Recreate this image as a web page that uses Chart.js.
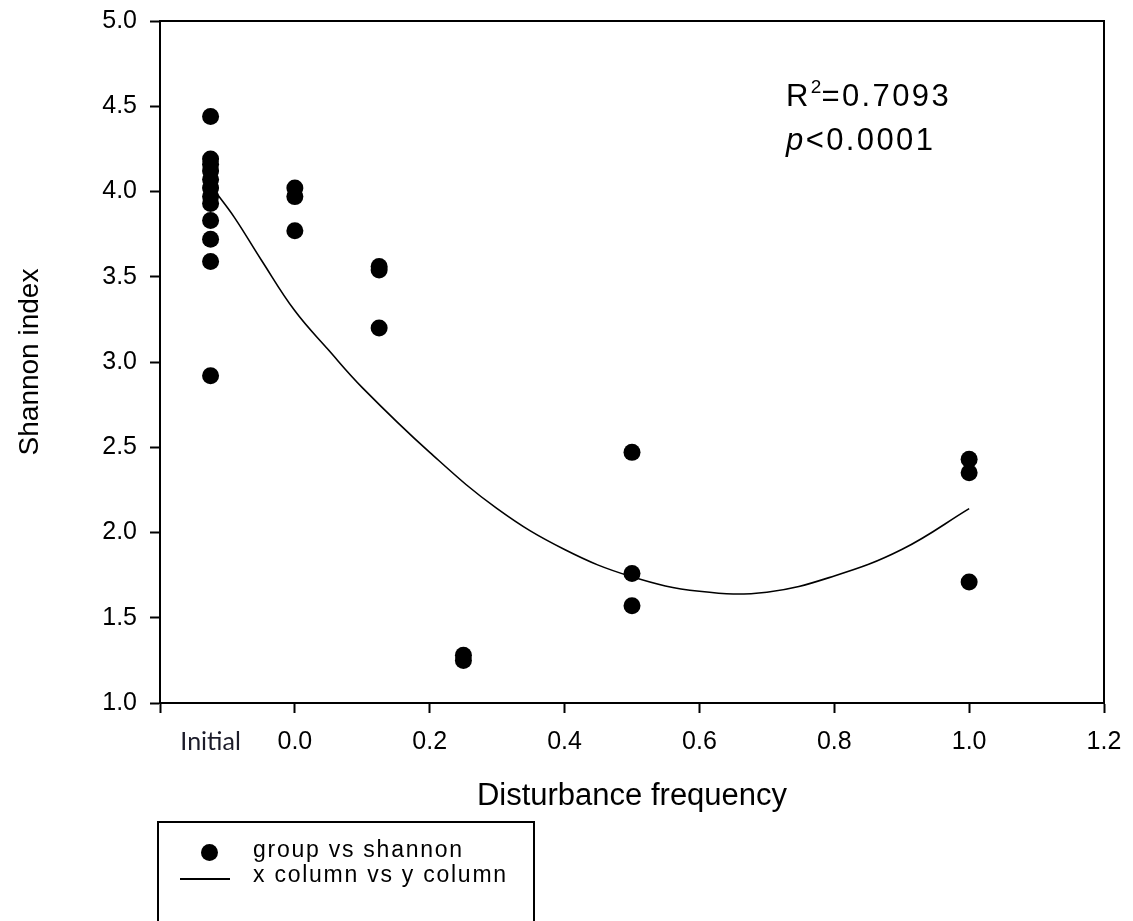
<!DOCTYPE html>
<html>
<head>
<meta charset="utf-8">
<title>Shannon index vs disturbance frequency</title>
<script src="https://cdn.jsdelivr.net/npm/chart.js@4.4.1/dist/chart.umd.min.js"></script>
<style>
  html, body { margin: 0; padding: 0; background: #fff; }
  #wrap { position: relative; width: 1133px; height: 921px; overflow: hidden; background: #fff; }
  #shannonChart { position: absolute; left: 0; top: 0; }
  .txt {
    position: absolute;
    font-family: "Liberation Sans", Arial, sans-serif;
    color: #000;
    line-height: 1;
    white-space: nowrap;
  }
  .stat { font-size: 31px; left: 786px; letter-spacing: 2.4px; }
  .stat sup { font-size: 19px; position: relative; top: -3px; vertical-align: top; letter-spacing: 0; }
  #legendBox {
    position: absolute;
    left: 157px;
    top: 821px;
    width: 378px;
    height: 120px;
    border: 2px solid #000;
    box-sizing: border-box;
  }
  .legend-dot {
    position: absolute;
    left: 201px;
    top: 844px;
    width: 17px;
    height: 17px;
    border-radius: 50%;
    background: #000;
  }
  .legend-line {
    position: absolute;
    left: 180px;
    top: 878px;
    width: 50px;
    height: 2px;
    background: #000;
  }
  .legend-txt { font-size: 23px; left: 253px; letter-spacing: 1.75px; }
</style>
</head>
<body>
<div id="wrap">
  <canvas id="shannonChart" width="1133" height="921"></canvas>

  <div class="txt stat" style="top: 80px;">R<sup>2</sup>=0.7093</div>
  <div class="txt stat" style="top: 124px;"><i>p</i>&lt;0.0001</div>

  <div id="legendBox"></div>
  <span class="legend-dot"></span>
  <span class="legend-line"></span>
  <span class="txt legend-txt" style="top: 838px;">group vs shannon</span>
  <span class="txt legend-txt" style="top: 863px;">x column vs y column</span>
</div>

<script>
// x axis ticks ("Initial" sits between -0.2 and 0.0 and has no tick mark)
const xTicks = [-0.2, -0.125, 0, 0.2, 0.4, 0.6, 0.8, 1.0, 1.2];
const xTickLabels = ["", "Initial", "0.0", "0.2", "0.4", "0.6", "0.8", "1.0", "1.2"];
const yTicks = [1.0, 1.5, 2.0, 2.5, 3.0, 3.5, 4.0, 4.5, 5.0];

// disturbance frequency of each group (Initial plotted at -0.125)
const groupX = [-0.125, 0, 0.125, 0.25, 0.5, 1.0];

// Shannon index values, one array per group
const initialY = [4.44, 4.19, 4.16, 4.12, 4.07, 4.02, 3.97, 3.93, 3.83, 3.72, 3.59, 2.92];
const freq0Y = [4.02, 3.97, 3.77];
const freq0125Y = [3.56, 3.54, 3.20];
const freq025Y = [1.28, 1.25];
const freq05Y = [2.47, 1.76, 1.57];
const freq1Y = [2.43, 2.35, 1.71];

// fitted curve, read at several points along the line
const curveX = [-0.12, -0.09, -0.05, 0, 0.05, 0.1, 0.2, 0.3, 0.4, 0.5, 0.6, 0.7, 0.8, 0.9, 1.0];
const curveY = [4.01, 3.85, 3.60, 3.30, 3.07, 2.85, 2.47, 2.14, 1.90, 1.74, 1.655, 1.65, 1.745, 1.90, 2.14];

const groupValues = [initialY, freq0Y, freq0125Y, freq025Y, freq05Y, freq1Y];

const scatterPoints = [];
groupValues.forEach((values, i) => {
  values.forEach((v) => {
    scatterPoints.push({ x: groupX[i], y: v });
  });
});

const curvePoints = curveX.map((x, i) => ({ x: x, y: curveY[i] }));

const fontFamily = '"Liberation Sans", Arial, sans-serif';

// draw the top and right edges of the plot frame
const frameBox = {
  id: "frameBox",
  afterDraw(chart) {
    const { ctx, chartArea } = chart;
    ctx.save();
    ctx.strokeStyle = "#000";
    ctx.lineWidth = 2;
    ctx.beginPath();
    ctx.moveTo(chartArea.left, chartArea.top);
    ctx.lineTo(chartArea.right, chartArea.top);
    ctx.lineTo(chartArea.right, chartArea.bottom);
    ctx.stroke();
    ctx.restore();
  },
};

const shannonCtx = document.getElementById("shannonChart");

new Chart(shannonCtx, {
  type: "scatter",
  data: {
    datasets: [
      {
        label: "x column vs y column",
        data: curvePoints,
        showLine: true,
        borderColor: "#000",
        borderWidth: 1.6,
        pointRadius: 0,
        tension: 0.4,
        fill: false,
        order: 2,
      },
      {
        label: "group vs shannon",
        data: scatterPoints,
        backgroundColor: "#000",
        borderColor: "#000",
        pointRadius: 8.5,
        pointBorderWidth: 0,
        order: 1,
      },
    ],
  },
  options: {
    responsive: false,
    animation: false,
    layout: {
      padding: { left: 0, top: 21, right: 29, bottom: 106 },
    },
    scales: {
      x: {
        type: "linear",
        min: -0.2,
        max: 1.2,
        afterBuildTicks: (scale) => {
          scale.ticks = xTicks.map((v) => ({ value: v }));
        },
        afterFit: (scale) => {
          // fixed axis height, and no extra room for edge labels
          scale.height = 112;
          scale.paddingLeft = 0;
          scale.paddingRight = 0;
        },
        border: { display: true, color: "#000", width: 2 },
        grid: {
          drawOnChartArea: false,
          drawTicks: true,
          tickLength: 10,
          tickWidth: 2,
          tickColor: (ctx) => (ctx.index === 1 ? "rgba(0,0,0,0)" : "#000"),
        },
        ticks: {
          autoSkip: false,
          maxRotation: 0,
          padding: 14,
          color: (ctx) => (ctx.index === 1 ? "#1c1c2a" : "#000"),
          font: (ctx) =>
            ctx.index === 1
              ? { family: "Lato, 'Open Sans', sans-serif", size: 25 }
              : { family: fontFamily, size: 25 },
          callback: (value, index) => xTickLabels[index],
        },
        title: {
          display: true,
          text: "Disturbance frequency",
          color: "#000",
          font: { family: fontFamily, size: 31 },
          padding: { top: 0, bottom: 0 },
        },
      },
      y: {
        type: "linear",
        min: 1,
        max: 5,
        afterBuildTicks: (scale) => {
          scale.ticks = yTicks.map((v) => ({ value: v }));
        },
        afterFit: (scale) => {
          scale.width = 160;
          scale.paddingTop = 0;
          scale.paddingBottom = 0;
        },
        border: { display: true, color: "#000", width: 2 },
        grid: {
          drawOnChartArea: false,
          drawTicks: true,
          tickLength: 10,
          tickWidth: 2,
          tickColor: "#000",
        },
        ticks: {
          padding: 13,
          color: "#000",
          font: { family: fontFamily, size: 25 },
          callback: (value) => value.toFixed(1),
        },
        title: {
          display: true,
          text: "Shannon index",
          color: "#000",
          font: { family: fontFamily, size: 28 },
          padding: { top: 13, bottom: 0 },
        },
      },
    },
    plugins: {
      legend: { display: false },
      tooltip: { enabled: false },
    },
  },
  plugins: [frameBox],
});
</script>
</body>
</html>
